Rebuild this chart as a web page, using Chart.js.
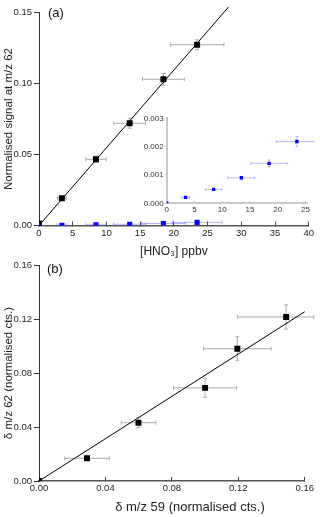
<!DOCTYPE html>
<html lang="en">
<head>
<meta charset="UTF-8">
<title>HNO3 calibration</title>
<script src="https://cdn.jsdelivr.net/npm/chart.js@4.4.1/dist/chart.umd.min.js"></script>
<style>
    body { margin: 0; background: #fff; }
    .wrap { position: relative; width: 320px; height: 517px; overflow: hidden; }
    canvas { position: absolute; }
    #chartA { left: 0; top: 0; }
    #inset { left: 130px; top: 105px; }
    #chartB { left: 0; top: 250px; }
</style>
</head>
<body>
<div class="wrap">
    <canvas id="chartA" width="320" height="262"></canvas>
    <canvas id="chartB" width="320" height="267"></canvas>
    <canvas id="inset" width="185" height="120"></canvas>
</div>
<script>
// (a) HNO3 mixing ratio vs normalised m/z 62 signal
const hno3 = [0, 3.4, 8.45, 13.45, 18.45, 23.45];
const hno3Err = [0, 0.66, 1.5, 2.37, 3.1, 3.97];
const sig62 = [0.0015, 0.0192, 0.0466, 0.0720, 0.1030, 0.1273];
const sig62Err = [0, 0.0012, 0.002, 0.0035, 0.0042, 0.0035];
// blue series (also shown in the inset)
const blankSig = [0, 0.00021, 0.00049, 0.0009, 0.00141, 0.00218];
const blankSigErr = [0, 0, 0, 0.00005, 0.00012, 0.00018];
const blankHno3Err = [0, 0.72, 1.5, 2.4, 3.25, 3.7];
const fitAx = [0, 28.1];
const fitAy = [0, 0.1538];

// (b) delta m/z 59 vs delta m/z 62
const d59 = [0, 0.0289, 0.0599, 0.1000, 0.1194, 0.1488];
const d59ErrLo = [0, 0.0134, 0.0104, 0.019, 0.0204, 0.0292];
const d59ErrHi = [0, 0.0134, 0.0104, 0.019, 0.0204, 0.0166];
const d62 = [0, 0.0168, 0.0432, 0.069, 0.098, 0.1215];
const d62Err = [0, 0.0015, 0.0037, 0.007, 0.0089, 0.009];
const fitBx = [0, 0.160];
const fitBy = [0, 0.1254];

// tick labels
const ticksAx = [0, 5, 10, 15, 20, 25, 30, 35, 40];
const ticksAy = [0, 0.05, 0.10, 0.15];
const ticksInsetX = [0, 5, 10, 15, 20, 25];
const ticksInsetY = [0, 0.001, 0.002, 0.003];
const ticksBx = [0, 0.04, 0.08, 0.12, 0.16];
const ticksBy = [0, 0.04, 0.08, 0.12, 0.16];

Chart.defaults.font.family = "'Liberation Sans', Arial, sans-serif";
Chart.defaults.color = '#222';
Chart.defaults.animation = false;

function pts(xs, ys) {
    return xs.map((v, i) => ({ x: v, y: ys[i] }));
}
function errs(lo, hi, ye) {
    return lo.map((v, i) => ({ xl: v, xh: hi[i], y: ye[i] }));
}
function setTicks(list) {
    return s => { s.ticks = list.map(v => ({ value: v })); };
}

// draws the error bars with the chart's own scales
const errorBars = {
    id: 'errorBars',
    beforeDatasetsDraw(chart) {
        const { ctx, scales: { x, y } } = chart;
        chart.data.datasets.forEach(ds => {
            if (!ds.errors) return;
            const cap = ds.errorCap || 2;
            ctx.save();
            ctx.strokeStyle = ds.errorColor;
            ctx.lineWidth = 1;
            ds.data.forEach((p, j) => {
                const e = ds.errors[j];
                const px = x.getPixelForValue(p.x);
                const py = y.getPixelForValue(p.y);
                ctx.beginPath();
                if (e.xl || e.xh) {
                    const x1 = x.getPixelForValue(p.x - e.xl);
                    const x2 = x.getPixelForValue(p.x + e.xh);
                    ctx.moveTo(x1, py); ctx.lineTo(x2, py);
                    ctx.moveTo(x1, py - cap); ctx.lineTo(x1, py + cap);
                    ctx.moveTo(x2, py - cap); ctx.lineTo(x2, py + cap);
                }
                if (e.y) {
                    const y1 = y.getPixelForValue(p.y - e.y);
                    const y2 = y.getPixelForValue(p.y + e.y);
                    ctx.moveTo(px, y1); ctx.lineTo(px, y2);
                    ctx.moveTo(px - cap, y1); ctx.lineTo(px + cap, y1);
                    ctx.moveTo(px - cap, y2); ctx.lineTo(px + cap, y2);
                }
                ctx.stroke();
            });
            ctx.restore();
        });
    }
};

// "(a)" / "(b)" labels
const panelLabel = {
    id: 'panelLabel',
    afterDraw(chart, args, opts) {
        if (!opts.text) return;
        const { ctx, chartArea } = chart;
        ctx.save();
        ctx.font = "13px 'Liberation Sans', Arial, sans-serif";
        ctx.fillStyle = '#111';
        ctx.textBaseline = 'middle';
        ctx.fillText(opts.text, chartArea.left + opts.dx, chartArea.top + opts.dy);
        ctx.restore();
    }
};

function axisX(min, max, list, fmt, title, height, extra) {
    return Object.assign({
        type: 'linear', min: min, max: max,
        afterBuildTicks: setTicks(list),
        afterFit: s => { s.height = height; },
        ticks: { font: { size: 9.5 }, padding: 6, maxRotation: 0, autoSkip: false, callback: fmt },
        grid: { drawOnChartArea: false, tickLength: -4, color: '#444' },
        border: { color: '#555', width: 1.5 },
        title: { display: !!title, text: title, font: { size: 12 }, padding: { top: 0, bottom: 3 } }
    }, extra || {});
}
function axisY(min, max, list, fmt, title, width, extra) {
    return Object.assign({
        type: 'linear', min: min, max: max,
        afterBuildTicks: setTicks(list),
        afterFit: s => { s.width = width; },
        ticks: { font: { size: 9.5 }, padding: 2, callback: fmt },
        grid: { drawOnChartArea: false, tickLength: 5, color: '#333' },
        border: { color: '#333', width: 1 },
        title: { display: !!title, text: title, font: { size: 11.5 }, padding: { top: 2, bottom: 0 } }
    }, extra || {});
}

const squareBlack = { pointStyle: 'rect', pointRadius: 4.2, backgroundColor: '#000', borderColor: '#000', borderWidth: 0 };

// ---------- panel (a) ----------
new Chart(document.getElementById('chartA'), {
    type: 'scatter',
    data: {
        datasets: [
            {
                data: pts(fitAx, fitAy), showLine: true, pointRadius: 0,
                borderColor: '#000', borderWidth: 1, clip: false
            },
            Object.assign({
                data: pts(hno3, blankSig),
                errors: errs(blankHno3Err, blankHno3Err, blankSigErr),
                errorColor: 'rgba(90,90,255,0.45)'
            }, { pointStyle: 'rect', pointRadius: 3.6, backgroundColor: '#0000ff', borderWidth: 0 }),
            Object.assign({
                data: pts(hno3, sig62),
                errors: errs(hno3Err, hno3Err, sig62Err),
                errorColor: '#aaa'
            }, squareBlack)
        ]
    },
    options: {
        responsive: false,
        devicePixelRatio: 1,
        layout: { padding: { left: 0, right: 8, top: 12.5, bottom: 0 } },
        plugins: {
            legend: { display: false },
            tooltip: { enabled: false },
            panelLabel: { text: '(a)', dx: 9, dy: 1 }
        },
        scales: {
            x: axisX(0, 40, ticksAx, v => v, '[HNO₃] ppbv', 36.5),
            y: axisY(0, 0.15, ticksAy, v => v.toFixed(2), 'Normalised signal at m/z 62', 39)
        }
    },
    plugins: [errorBars, panelLabel]
});

// ---------- inset ----------
new Chart(document.getElementById('inset'), {
    type: 'scatter',
    data: {
        datasets: [{
            data: pts(hno3, blankSig),
            errors: errs(blankHno3Err, blankHno3Err, blankSigErr),
            errorColor: 'rgba(90,90,255,0.4)',
            errorCap: 1.5,
            pointStyle: 'rect', pointRadius: 2.4, backgroundColor: '#0000ff', borderWidth: 0
        }]
    },
    options: {
        responsive: false,
        devicePixelRatio: 1,
        layout: { padding: { left: 0, right: 7.3, top: 13.3, bottom: 0 } },
        plugins: { legend: { display: false }, tooltip: { enabled: false } },
        scales: {
            x: axisX(0, 25.4, ticksInsetX, v => v, '', 21.7, {
                ticks: { font: { size: 8 }, padding: 4, maxRotation: 0, autoSkip: false, color: '#333' },
                grid: { drawOnChartArea: false, tickLength: -2, color: '#bbb' },
                border: { color: '#c8c8c8', width: 2 }
            }),
            y: axisY(0, 0.003, ticksInsetY, v => v.toFixed(3), '', 36.7, {
                ticks: { font: { size: 8 }, padding: 1, color: '#333', callback: v => v.toFixed(3) },
                grid: { drawOnChartArea: false, tickLength: 2, color: '#bbb' },
                border: { color: '#c8c8c8', width: 2 }
            })
        }
    },
    plugins: [errorBars]
});

// ---------- panel (b) ----------
new Chart(document.getElementById('chartB'), {
    type: 'scatter',
    data: {
        datasets: [
            {
                data: pts(fitBx, fitBy), showLine: true, pointRadius: 0,
                borderColor: '#000', borderWidth: 1, clip: false
            },
            Object.assign({
                data: pts(d59, d62),
                errors: errs(d59ErrLo, d59ErrHi, d62Err),
                errorColor: '#aaa'
            }, squareBlack)
        ]
    },
    options: {
        responsive: false,
        devicePixelRatio: 1,
        layout: { padding: { left: 0, right: 13, top: 15, bottom: 0 } },
        plugins: {
            legend: { display: false },
            tooltip: { enabled: false },
            panelLabel: { text: '(b)', dx: 8, dy: 4 }
        },
        scales: {
            x: axisX(0, 0.16, ticksBx, v => v.toFixed(2), '          δ m/z 59 (normalised cts.)', 36, {
                title: { display: true, text: '          δ m/z 59 (normalised cts.)', font: { size: 13 }, padding: { top: 0, bottom: 2 } }
            }),
            y: axisY(0, 0.16, ticksBy, v => v.toFixed(2), 'δ m/z 62 (normalised cts.)', 39)
        }
    },
    plugins: [errorBars, panelLabel]
});
</script>
</body>
</html>
